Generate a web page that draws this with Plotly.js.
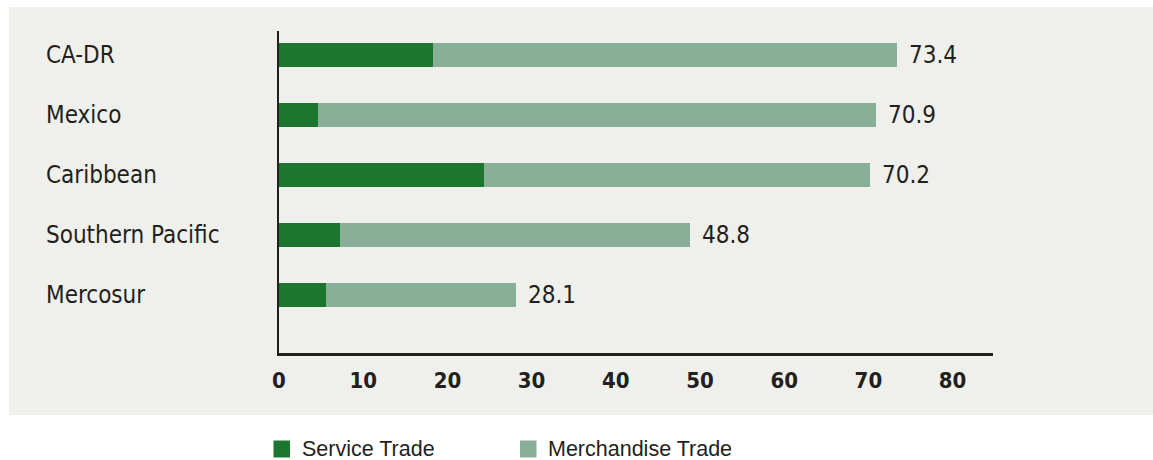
<!DOCTYPE html>
<html>
<head>
<meta charset="utf-8">
<script src="https://cdn.plot.ly/plotly-3.0.1.min.js"></script>
<style>
  html, body { margin: 0; padding: 0; background: #ffffff; }
  #chart { width: 1153px; height: 460px; }
</style>
</head>
<body>
<div id="chart"></div>
<script>
// ---- data ----
const categories = ['CA-DR', 'Mexico', 'Caribbean', 'Southern Pacific', 'Mercosur'];
const totalTrade = [73.4, 70.9, 70.2, 48.8, 28.1];
const serviceTrade = [18.3, 4.6, 24.3, 7.3, 5.6];
const merchandiseTrade = totalTrade.map((t, i) => +(t - serviceTrade[i]).toFixed(1));
const totalLabels = ['73.4', '70.9', '70.2', '48.8', '28.1'];
const xTicks = [0, 10, 20, 30, 40, 50, 60, 70, 80];
const seriesNames = ['Service Trade', 'Merchandise Trade'];

// ---- style ----
const DARK = '#1d7630';
const LIGHT = '#8aaf99';
const BG = '#efefeb';
const TXT = '#231f20';
const NARROW = '"DejaVu Sans Condensed", "Liberation Sans Narrow", sans-serif';
const REG = '"Liberation Sans", Arial, sans-serif';

// plot area in pixels: left 279, right 993, top 31, bottom 353
const L = 279, R = 993, T = 31, B = 353;
const px = x => (x - L) / (R - L);
const py = y => (B - y) / (B - T);

const traces = [
  {
    type: 'bar', orientation: 'h', name: seriesNames[0],
    y: categories, x: serviceTrade,
    marker: { color: DARK, line: { width: 0 } },
    width: 0.4, hoverinfo: 'x+y', showlegend: false
  },
  {
    type: 'bar', orientation: 'h', name: seriesNames[1],
    y: categories, x: merchandiseTrade,
    marker: { color: LIGHT, line: { width: 0 } },
    width: 0.4, hoverinfo: 'x+y', showlegend: false
  }
];

const annotations = [];
categories.forEach((c, i) => {
  annotations.push({
    xref: 'paper', yref: 'y', x: px(44), y: c, xanchor: 'left', yanchor: 'middle',
    text: c, showarrow: false, font: { family: NARROW, size: 24, color: TXT }
  });
  annotations.push({
    xref: 'x', yref: 'y', x: totalTrade[i], y: c, xanchor: 'left', yanchor: 'middle',
    xshift: 10, text: totalLabels[i], showarrow: false,
    font: { family: NARROW, size: 24, color: TXT }
  });
});
// legend
const legendItems = [
  { name: seriesNames[0], color: DARK, sq: 273.5, tx: 300 },
  { name: seriesNames[1], color: LIGHT, sq: 520, tx: 546 }
];
const shapes = [
  { type: 'rect', xref: 'paper', yref: 'paper', x0: px(9), x1: px(1153), y0: py(415), y1: py(7),
    fillcolor: BG, line: { width: 0 }, layer: 'below' }
];
legendItems.forEach(it => {
  shapes.push({ type: 'rect', xref: 'paper', yref: 'paper', x0: px(it.sq), x1: px(it.sq + 16.5),
    y0: py(457.5), y1: py(440.5), fillcolor: it.color, line: { width: 0 } });
  annotations.push({ xref: 'paper', yref: 'paper', x: px(it.tx), y: py(449), xanchor: 'left', yanchor: 'middle',
    text: it.name, showarrow: false, font: { family: REG, size: 21.5, color: TXT } });
});

const layout = {
  width: 1153, height: 460,
  margin: { l: L, r: 1153 - R, t: T, b: 460 - B, pad: 0 },
  paper_bgcolor: '#ffffff',
  plot_bgcolor: BG,
  barmode: 'stack',
  showlegend: false,
  xaxis: {
    range: [0, 84.8], tickvals: xTicks, ticktext: xTicks.map(String),
    showgrid: false, zeroline: false, showline: true, linecolor: TXT, linewidth: 2.5,
    ticks: '', ticklabelstandoff: 6,
    tickfont: { family: NARROW, size: 22, color: TXT, weight: 'bold' }
  },
  yaxis: {
    type: 'category', categoryorder: 'array', categoryarray: categories,
    range: [4.967, -0.4], showticklabels: false, showgrid: false, zeroline: false,
    showline: true, linecolor: TXT, linewidth: 2.5, ticks: ''
  },
  shapes: shapes,
  annotations: annotations
};

Plotly.newPlot('chart', traces, layout, { displayModeBar: false, staticPlot: true });
</script>
</body>
</html>
